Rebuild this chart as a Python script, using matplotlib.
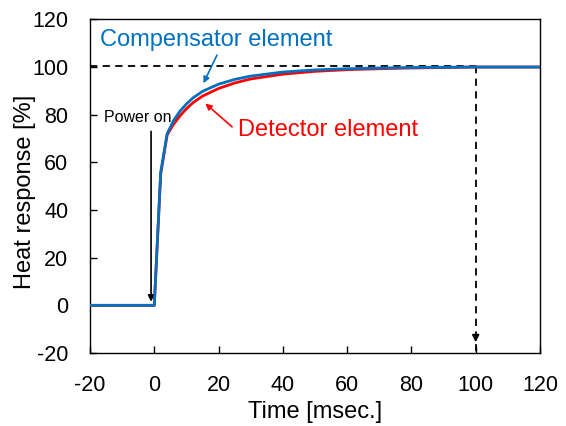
import matplotlib
matplotlib.use("Agg")
import matplotlib.pyplot as plt

plt.rcParams['font.family'] = ['Liberation Sans', 'DejaVu Sans']

time_comp = [-20, 0, 2, 4, 6, 8, 10, 12, 15, 20, 25, 30, 40, 50, 60, 70, 80, 100, 120]
comp_vals = [0, 0, 56, 72, 77.5, 81.5, 84.5, 87, 89.8, 92.8, 94.8, 96.2, 97.9, 98.8, 99.3, 99.6, 99.8, 100, 100]
time_det = [-20, 0, 2, 4, 6, 8, 10, 12, 15, 20, 25, 30, 40, 50, 60, 70, 80, 100, 120]
det_vals = [0, 0, 55, 71.5, 76, 79.5, 82.5, 85, 87.8, 91, 93.3, 95, 97, 98.2, 98.9, 99.3, 99.6, 100, 100]

x_ticks = [-20, 0, 20, 40, 60, 80, 100, 120]
y_ticks = [-20, 0, 20, 40, 60, 80, 100, 120]

fig = plt.figure(figsize=(5.66, 4.26), dpi=100)
ax = fig.add_axes([0.159, 0.1714, 0.795, 0.7831])

ax.plot(time_det, det_vals, color='#FF0000', lw=2.0, zorder=3)
ax.plot(time_comp, comp_vals, color='#0070C0', lw=2.0, zorder=4)

# dashed reference lines
ax.plot([-20, 100], [100.4, 100.4], color='black', lw=1.3, ls=(0, (4, 3)), zorder=2)
ax.plot([100, 100], [100.4, -20], color='black', lw=1.3, ls=(0, (4, 3)), zorder=2)
ax.annotate('', xy=(100, -15.5), xytext=(100, -12),
            arrowprops=dict(arrowstyle='-|>', color='black', lw=1.3,
                            mutation_scale=10, shrinkA=0, shrinkB=0))

# Power on arrow
ax.annotate('', xy=(-1, 1.5), xytext=(-1, 73),
            arrowprops=dict(arrowstyle='-|>', color='black', lw=1.2,
                            mutation_scale=9, shrinkA=0, shrinkB=0))
ax.text(-15.6, 79.0, 'Power on', fontsize=11.5, color='black', va='center', ha='left')

# Compensator label
ax.text(-17, 111.3, 'Compensator element', fontsize=17, color='#0070C0', va='center', ha='left')
ax.annotate('', xy=(15.3, 93.2), xytext=(19.5, 105),
            arrowprops=dict(arrowstyle='-|>', color='#0070C0', lw=1.2,
                            mutation_scale=9, shrinkA=0, shrinkB=0))

# Detector label
ax.text(26.2, 73.6, 'Detector element', fontsize=17, color='#FF0000', va='center', ha='left')
ax.annotate('', xy=(15.9, 84.7), xytext=(24.2, 74.9),
            arrowprops=dict(arrowstyle='-|>', color='#FF0000', lw=1.2,
                            mutation_scale=9, shrinkA=0, shrinkB=0))

ax.set_xlim(-20, 120)
ax.set_ylim(-20, 120)
ax.set_xticks(x_ticks)
ax.set_yticks(y_ticks)
ax.set_xticklabels([str(v) for v in x_ticks])
ax.set_yticklabels([str(v) for v in y_ticks])
ax.tick_params(direction='in', length=5, width=1, labelsize=15.5, pad=15.5)
for s in ax.spines.values():
    s.set_linewidth(1.0)
ax.set_xlabel('Time [msec.]', fontsize=17)
ax.set_ylabel('Heat response [%]', fontsize=17)
ax.xaxis.set_label_coords(0.5, -0.145)
ax.yaxis.set_label_coords(-0.12, 0.483)

fig.savefig('out.png', dpi=100)
